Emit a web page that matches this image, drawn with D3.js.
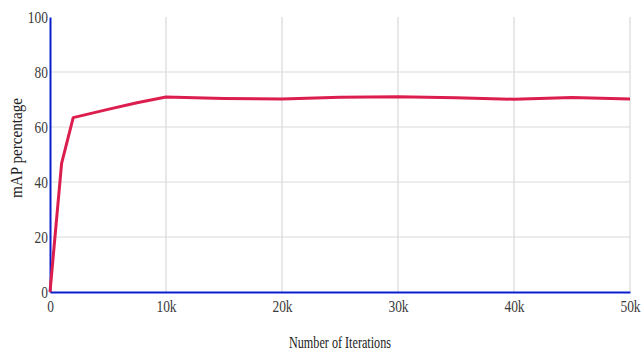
<!DOCTYPE html>
<html><head><meta charset="utf-8">
<script src="https://cdn.jsdelivr.net/npm/d3@7"></script>
<style>body{margin:0;background:#fff}</style>
</head><body>
<svg id="c" width="644" height="352"></svg>
<script>
const iterations = [0, 1000, 2000, 5000, 7500, 10000, 15000, 20000, 25000, 30000, 35000, 40000, 45000, 50000];
const mAP = [0, 46.8, 63.4, 66.4, 68.8, 70.9, 70.4, 70.2, 70.8, 71.0, 70.6, 70.1, 70.7, 70.2];
const xTicks = [0, 10000, 20000, 30000, 40000, 50000];
const xTickLabels = ["0", "10k", "20k", "30k", "40k", "50k"];
const yTicks = [0, 20, 40, 60, 80, 100];

const svg = d3.select("#c");
const font = "'Liberation Serif', 'Times New Roman', serif";
const x = d3.scaleLinear().domain([0, 50000]).range([50, 630]);
const y = d3.scaleLinear().domain([0, 100]).range([292, 17]);

function squish(sel, k) {
  sel.each(function () {
    const w = this.getComputedTextLength();
    if (w > 0) {
      this.setAttribute("textLength", (w * k).toFixed(1));
      this.setAttribute("lengthAdjust", "spacingAndGlyphs");
    }
  });
}
function fit(sel, len) {
  sel.attr("textLength", len).attr("lengthAdjust", "spacingAndGlyphs");
}

// grid
svg.append("g").selectAll("line").data(xTicks.slice(1)).join("line")
  .attr("x1", d => x(d)).attr("x2", d => x(d)).attr("y1", y(100)).attr("y2", y(0))
  .attr("stroke", "#d9d9d9").attr("stroke-width", 1.2);
svg.append("g").selectAll("line").data(yTicks.slice(1, -1)).join("line")
  .attr("x1", x(0)).attr("x2", x(50000)).attr("y1", d => y(d)).attr("y2", d => y(d))
  .attr("stroke", "#d9d9d9").attr("stroke-width", 1.2);

// axes
const xa = svg.append("g").attr("transform", `translate(0,${y(0)})`)
  .call(d3.axisBottom(x).tickValues(xTicks).tickFormat((d, i) => xTickLabels[i]).tickSize(0).tickPadding(9));
const ya = svg.append("g").attr("transform", `translate(${x(0)},0)`)
  .call(d3.axisLeft(y).tickValues(yTicks).tickSize(0).tickPadding(2));
[xa, ya].forEach(a => {
  a.attr("font-family", font).attr("font-size", 16);
  a.select(".domain").attr("stroke", "#0a1fcc").attr("stroke-width", 2);
  a.selectAll("text").style("font-family", font).style("font-size", "16px").attr("fill", "#3a3a3a");
  squish(a.selectAll("text"), 0.84);
});
xa.selectAll("text").attr("dy", "0.71em");

// line
svg.append("path").datum(iterations.map((d, i) => [d, mAP[i]]))
  .attr("fill", "none").attr("stroke", "#dc1e4e").attr("stroke-width", 3)
  .attr("stroke-linejoin", "round")
  .attr("d", d3.line().x(d => x(d[0])).y(d => y(d[1])));

// titles
const t1 = svg.append("text").attr("x", 340).attr("y", 348).attr("text-anchor", "middle")
  .style("font-family", font).style("font-size", "16px").attr("fill", "#222").text("Number of Iterations");
fit(t1, 102);
const t2 = svg.append("text").attr("transform", "translate(22,148) rotate(-90)").attr("text-anchor", "middle")
  .style("font-family", font).style("font-size", "17px").attr("fill", "#222").text("mAP percentage");
fit(t2, 100);
</script>
</body></html>
